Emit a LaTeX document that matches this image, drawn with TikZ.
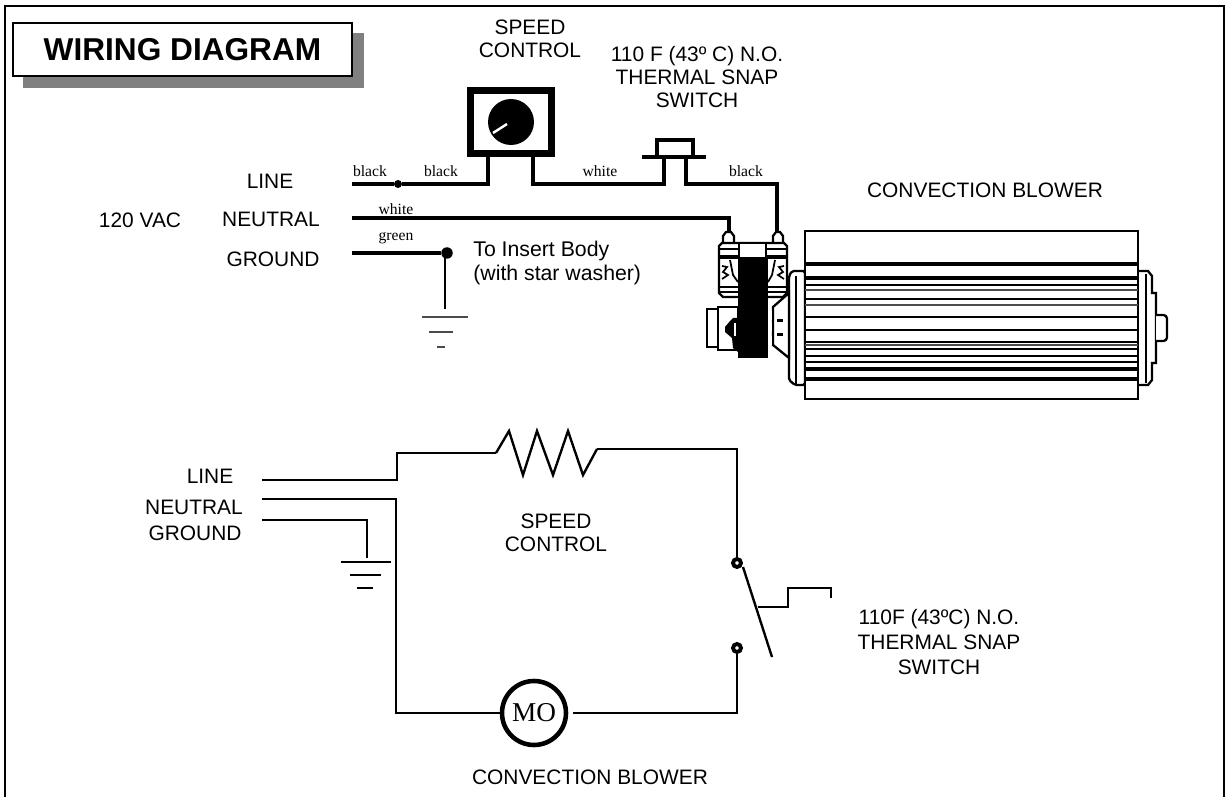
\documentclass[tikz,border=0pt]{standalone}
\usepackage{fontspec}
\setmainfont{Liberation Sans}
\newfontfamily\wirefont{Liberation Serif}
\tikzset{
    lbl/.style={font=\fontsize{11.9pt}{13.3pt}\selectfont, align=center, inner sep=0pt},
    wirelbl/.style={font=\wirefont\fontsize{8.9pt}{10pt}\selectfont, inner sep=0pt},
    heavywire/.style={line width=2.2pt},
    wire/.style={line width=1.35pt},
    blowerline/.style={line width=1.3pt},
    contact/.style={draw, circle, fill=white, line width=2.2pt, inner sep=0pt, minimum size=0.16cm},
    splice/.style={circle, fill=black, inner sep=0pt, minimum size=#1},
}
\begin{document}
\begin{tikzpicture}[x=0.02cm, y=-0.02cm, line join=miter]
    \useasboundingbox (0,0) rectangle (1225,797);
    \draw[line width=1.1pt] (5,797) -- (5,6) -- (1224,6) -- (1224,797);

    \fill[black!50] (23,33) rectangle (364,88);
    \node[draw, line width=1.4pt, fill=white, inner sep=0pt, minimum width=6.78cm, minimum height=1.06cm,
          font=\bfseries\fontsize{18pt}{20pt}\selectfont] (title) at (182.5,49.5) {WIRING DIAGRAM};

    \node[lbl] (linetop) at (270,181) {LINE};
    \node[lbl] (neutraltop) at (271,219) {NEUTRAL};
    \node[lbl] (groundtop) at (273,259) {GROUND};
    \node[lbl] (vac) at (140,220) {120 VAC};
    \node[lbl] (speedtop) at (530,39) {SPEED\\CONTROL};
    \node[lbl] (snaptop) at (697,77) {110 F (43º C) N.O.\\THERMAL SNAP\\SWITCH};
    \node[lbl] (blowertop) at (985,190) {CONVECTION BLOWER};
    \node[lbl, align=left, anchor=west, font=\fontsize{12.1pt}{13.3pt}\selectfont] (insertbody) at (473,263) {To Insert Body\\(with star washer)};

    \node[wirelbl] (blacka) at (370,171) {black};
    \node[wirelbl] (blackb) at (441,171) {black};
    \node[wirelbl] (whitea) at (600,171) {white};
    \node[wirelbl] (blackc) at (746,171) {black};
    \node[wirelbl] (whiteb) at (396,209) {white};
    \node[wirelbl] (greena) at (396,238) {green};

    \node[draw, line width=4pt, minimum width=1.62cm, minimum height=1.26cm, inner sep=0pt] (speedbox) at (511,122) {};
    \fill[black] (speedbox.center) circle (0.46cm);
    \draw[white, line width=1.4pt] (493,133) -- (507,124);

    \coordinate (linestart) at (352,184);
    \coordinate (neutralstart) at (352,218);
    \coordinate (groundstart) at (352,253);
    \coordinate (speedin) at (488,155);
    \coordinate (speedout) at (533,155);
    \coordinate (snapin) at (664,157);
    \coordinate (snapout) at (686,157);
    \coordinate (termhot) at (777,233);
    \coordinate (termneutral) at (729,233);
    \node[splice=0.16cm] (linedot) at (398,184) {};
    \node[splice=0.23cm] (grounddot) at (447,253) {};

    \draw[heavywire] (linestart) -- (linedot) -| (speedin);
    \draw[heavywire] (speedout) |- (snapin |- linestart) -- (snapin);
    \draw[heavywire] (snapout) |- (termhot |- linestart) -- (termhot);
    \draw[line width=1.9pt] (neutralstart) -| (termneutral);
    \draw[heavywire] (groundstart) -- (grounddot);

    \draw[line width=2.4pt] (657,157) -- (657,140) -- (693,140) -- (693,157);
    \draw[line width=2.4pt] (642,157) -- (706,157);

    \coordinate (earthtop) at (445,309);
    \draw[line width=0.7pt] (445,253) -- (earthtop);
    \draw[line width=0.7pt, black!70] (422,317) -- (468,317);
    \draw[line width=0.7pt, black!70] (429,332) -- (453,332);
    \draw[line width=0.7pt, black!70] (437,347) -- (445,347);

    \draw[blowerline, fill=white, rounded corners=1pt] (789,380) -- (789,276) -- (792,271) -- (805,271) -- (805,385) -- (795,385) -- cycle;
    \draw[blowerline] (796,276) -- (796,385);
    \draw[blowerline, fill=white] (1138,271) -- (1148,271) -- (1152,276) -- (1152,293) -- (1156,293) -- (1156,363) -- (1152,363) -- (1152,380) -- (1148,385) -- (1138,385);
    \draw[blowerline] (1146,274) -- (1146,383);
    \draw[blowerline, fill=white, rounded corners=2pt] (1156,315) -- (1167,315) -- (1167,341) -- (1156,341);
    \draw[line width=1.5pt, fill=white] (805,231) rectangle (1138,399);
    \foreach \y in {264,278,369,379} {
        \draw[line width=2pt] (805,\y) -- (1138,\y);
    }
    \foreach \y in {285,299,317,330,342,349,356,362} {
        \draw[blowerline] (805,\y) -- (1138,\y);
    }
    \foreach \y in {290,305,345} {
        \draw[line width=0.8pt, black!70] (805,\y) -- (1138,\y);
    }

    \draw[blowerline, fill=white] (789,293) -- (773,307) -- (773,345) -- (789,358) -- cycle;
    \fill[black] (777,319) rectangle (783,322);
    \fill[black] (777,333) rectangle (783,336);
    \draw[blowerline, fill=white] (718,309) -- (707,309) -- (707,347) -- (718,347);
    \draw[blowerline, fill=white] (718,307) rectangle (738,350);

    \draw[blowerline, fill=white] (723,243) -- (723,236) -- (726,232) -- (731,232) -- (734,236) -- (734,243);
    \draw[blowerline, fill=white] (773,243) -- (773,236) -- (776,232) -- (780,232) -- (783,236) -- (783,243);
    \draw[blowerline, fill=white] (722,243) -- (784,243) -- (787,246) -- (787,293) -- (783,297) -- (723,297) -- (719,293) -- (719,246) -- cycle;
    \draw[blowerline] (719,249) -- (739,249);
    \draw[blowerline] (766,249) -- (787,249);
    \draw[line width=2pt] (719,257) -- (739,257);
    \draw[line width=2pt] (766,257) -- (787,257);
    \draw[blowerline] (719,287) -- (739,287);
    \draw[blowerline] (766,287) -- (787,287);
    \draw[blowerline] (719,292) -- (739,292);
    \draw[blowerline] (766,292) -- (787,292);
    \draw[line width=1pt] (722,266) -- (727,267) -- (723,272) -- (728,275) -- (722,279);
    \draw[line width=1pt] (784,266) -- (779,267) -- (783,272) -- (778,275) -- (784,279);
    \draw[line width=1pt] (730,260) -- (733,275) -- (738,282);
    \draw[line width=1pt] (775,260) -- (772,275) -- (768,282);
    \draw[blowerline, fill=white] (739,243) rectangle (766,258);
    \fill[black] (738,258) rectangle (768,358);
    \fill[black] (738,318) -- (733,318) -- (730,321) -- (725,327) -- (725,332) -- (732,338) -- (733,348) -- (738,352) -- cycle;
    \foreach \y in {311,322,336} {
        \fill[white] (768,\y) rectangle (772,\y+9);
    }
    \draw[white, line width=0.7pt] (735,323) -- (735,336);

    \node[lbl] (linelow) at (210,476) {LINE};
    \node[lbl] (neutrallow) at (194,507) {NEUTRAL};
    \node[lbl] (groundlow) at (195,533) {GROUND};
    \node[lbl] (speedlow) at (556,533) {SPEED\\CONTROL};
    \node[lbl, font=\fontsize{11.9pt}{14pt}\selectfont] (snaplow) at (939,642) {110F (43ºC) N.O.\\THERMAL SNAP\\SWITCH};
    \node[lbl] (blowerlow) at (590,777) {CONVECTION BLOWER};

    \coordinate (linelowstart) at (262,480);
    \coordinate (neutrallowstart) at (262,499);
    \coordinate (groundlowstart) at (262,520);
    \coordinate (resistorin) at (496,453);
    \coordinate (resistorout) at (597,449);
    \coordinate (earthlow) at (367,558);
    \coordinate (motorout) at (573,713);
    \node[contact] (contacttop) at (737,563) {};
    \node[contact] (contactlow) at (737,648) {};
    \node[draw, circle, line width=2.6pt, fill=white, minimum size=1.28cm, inner sep=0pt,
          font=\wirefont\fontsize{15.5pt}{16pt}\selectfont] (motor) at (534,713) {MO};

    \draw[wire] (linelowstart) -- (397,480) -- (397,453) -- (resistorin);
    \draw[wire] (resistorin) -- (509,431) -- (523,475) -- (537,431) -- (553,475) -- (568,431) -- (583,475) -- (resistorout);
    \draw[wire] (resistorout) -| (contacttop);
    \draw[wire] (neutrallowstart) -| (396,713) -- (motor);
    \draw[wire] (motorout) -| (contactlow);
    \draw[wire] (groundlowstart) -| (earthlow);
    \draw[wire] (341,562) -- (391,562);
    \draw[wire] (350,575) -- (381,575);
    \draw[wire] (357,588) -- (373,588);

    \draw[wire] (743,567) -- (772,657);
    \draw[wire] (758,607) -- (788,607) -- (788,588) -- (831,588) -- (831,598);
\end{tikzpicture}
\end{document}
